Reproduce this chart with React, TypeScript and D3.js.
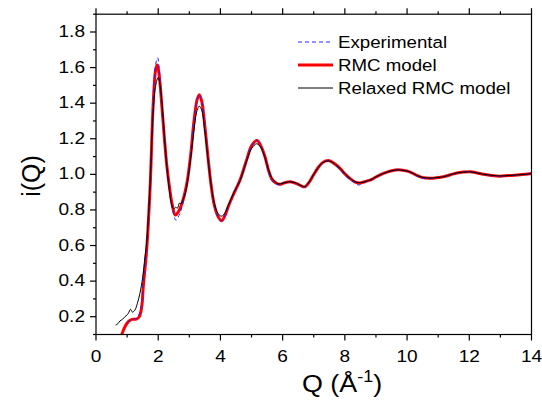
import * as d3 from 'd3'

// Q (1/Å) vs i(Q)
const experimental: [number, number][] = [
  [1.0, 0.165], [1.1, 0.18], [1.2, 0.186], [1.3, 0.19], [1.39, 0.215], [1.47, 0.28],
  [1.52, 0.39], [1.58, 0.5], [1.63, 0.6], [1.74, 0.95], [1.84, 1.42], [1.92, 1.62],
  [1.98, 1.655], [2.04, 1.58], [2.11, 1.41], [2.2, 1.2], [2.27, 1.05], [2.36, 0.91],
  [2.46, 0.8], [2.57, 0.742], [2.67, 0.77], [2.77, 0.82], [2.87, 0.89], [2.95, 0.97],
  [3.05, 1.12], [3.15, 1.3], [3.25, 1.42], [3.32, 1.448], [3.4, 1.41], [3.5, 1.27],
  [3.61, 1.08], [3.7, 0.94], [3.8, 0.83], [3.92, 0.765], [4.04, 0.739], [4.15, 0.77],
  [4.25, 0.818], [4.41, 0.884], [4.63, 0.968], [4.84, 1.08], [5.0, 1.16], [5.17, 1.19],
  [5.3, 1.16], [5.43, 1.095], [5.55, 1.01], [5.65, 0.965], [5.8, 0.945], [5.92, 0.942],
  [6.05, 0.952], [6.24, 0.958], [6.45, 0.948], [6.6, 0.932], [6.72, 0.928], [6.85, 0.955],
  [6.99, 0.996], [7.15, 1.04], [7.3, 1.068], [7.5, 1.077], [7.7, 1.05], [7.85, 1.025],
  [8.0, 0.995], [8.17, 0.97], [8.35, 0.948], [8.45, 0.94], [8.6, 0.955], [8.81, 0.966],
  [9.0, 0.985], [9.24, 1.005], [9.5, 1.02], [9.72, 1.026], [9.95, 1.02], [10.1, 1.012],
  [10.3, 0.992], [10.5, 0.978], [10.74, 0.976], [11.0, 0.982], [11.17, 0.986], [11.4, 0.998],
  [11.6, 1.008], [11.8, 1.013], [12.03, 1.015], [12.25, 1.008], [12.45, 1.0], [12.7, 0.993],
  [12.99, 0.99], [13.25, 0.993], [13.53, 0.996], [13.8, 1.0], [14.0, 1.005],
]

const rmcModel: [number, number][] = [
  [0.83, 0.1], [0.93, 0.144], [1.04, 0.172], [1.15, 0.185], [1.29, 0.186], [1.39, 0.2],
  [1.47, 0.256], [1.52, 0.37], [1.58, 0.48], [1.63, 0.58], [1.74, 0.93], [1.84, 1.4],
  [1.92, 1.59], [1.97, 1.615], [2.03, 1.56], [2.11, 1.4], [2.2, 1.2], [2.27, 1.06],
  [2.36, 0.93], [2.45, 0.83], [2.55, 0.771], [2.65, 0.79], [2.75, 0.83], [2.85, 0.89],
  [2.95, 0.98], [3.05, 1.12], [3.15, 1.3], [3.25, 1.42], [3.32, 1.448], [3.4, 1.41],
  [3.5, 1.27], [3.61, 1.08], [3.7, 0.94], [3.8, 0.83], [3.92, 0.765], [4.04, 0.739],
  [4.15, 0.77], [4.25, 0.818], [4.41, 0.884], [4.63, 0.968], [4.84, 1.08], [5.0, 1.16],
  [5.17, 1.19], [5.3, 1.16], [5.43, 1.1], [5.55, 1.02], [5.65, 0.975], [5.8, 0.95],
  [5.92, 0.944], [6.05, 0.952], [6.24, 0.958], [6.45, 0.948], [6.6, 0.935], [6.72, 0.93],
  [6.85, 0.955], [6.99, 0.996], [7.15, 1.04], [7.3, 1.068], [7.5, 1.077], [7.7, 1.055],
  [7.85, 1.032], [8.0, 1.003], [8.17, 0.976], [8.35, 0.955], [8.5, 0.952], [8.7, 0.962],
  [8.81, 0.967], [9.0, 0.985], [9.24, 1.005], [9.5, 1.02], [9.72, 1.026], [9.95, 1.02],
  [10.1, 1.013], [10.3, 0.995], [10.47, 0.983], [10.74, 0.978], [11.0, 0.982], [11.17, 0.986],
  [11.4, 0.998], [11.6, 1.008], [11.8, 1.013], [12.03, 1.015], [12.25, 1.008], [12.45, 1.0],
  [12.7, 0.994], [12.99, 0.99], [13.25, 0.993], [13.53, 0.996], [13.8, 1.0], [14.0, 1.005],
]

const relaxedModel: [number, number][] = [
  [0.63, 0.153], [0.7, 0.16], [0.77, 0.176], [0.85, 0.185], [0.93, 0.2], [1.0, 0.21],
  [1.04, 0.219], [1.11, 0.242], [1.17, 0.226], [1.25, 0.237], [1.33, 0.275], [1.41, 0.33],
  [1.5, 0.42], [1.57, 0.53], [1.63, 0.62], [1.74, 0.95], [1.84, 1.36], [1.92, 1.5],
  [2.0, 1.545], [2.06, 1.5], [2.13, 1.38], [2.2, 1.21], [2.28, 1.04], [2.36, 0.91],
  [2.43, 0.83], [2.5, 0.805], [2.56, 0.815], [2.62, 0.81], [2.68, 0.838], [2.74, 0.835],
  [2.8, 0.86], [2.88, 0.9], [2.95, 0.97], [3.05, 1.1], [3.15, 1.25], [3.25, 1.36],
  [3.32, 1.383], [3.4, 1.36], [3.5, 1.24], [3.61, 1.07], [3.7, 0.94], [3.8, 0.84],
  [3.92, 0.78], [4.04, 0.765], [4.15, 0.785], [4.25, 0.825], [4.41, 0.89], [4.63, 0.965],
  [4.84, 1.075], [5.0, 1.145], [5.17, 1.172], [5.3, 1.15], [5.43, 1.095], [5.55, 1.025],
  [5.65, 0.98], [5.8, 0.952], [5.92, 0.946], [6.05, 0.953], [6.24, 0.958], [6.45, 0.95],
  [6.6, 0.936], [6.72, 0.932], [6.85, 0.957], [6.99, 0.997], [7.15, 1.04], [7.3, 1.066],
  [7.5, 1.075], [7.7, 1.055], [7.85, 1.033], [8.0, 1.004], [8.17, 0.977], [8.35, 0.957],
  [8.5, 0.953], [8.7, 0.962], [8.81, 0.968], [9.0, 0.986], [9.24, 1.005], [9.5, 1.02],
  [9.72, 1.025], [9.95, 1.02], [10.1, 1.013], [10.3, 0.996], [10.47, 0.984], [10.74, 0.979],
  [11.0, 0.983], [11.17, 0.987], [11.4, 0.998], [11.6, 1.008], [11.8, 1.012], [12.03, 1.014],
  [12.25, 1.008], [12.45, 1.0], [12.7, 0.995], [12.99, 0.991], [13.25, 0.993], [13.53, 0.997],
  [13.8, 1.0], [14.0, 1.004],
]

const xTicks = [0, 2, 4, 6, 8, 10, 12, 14]
const xMinorTicks = [1, 3, 5, 7, 9, 11, 13]
const yTicks = [0.2, 0.4, 0.6, 0.8, 1.0, 1.2, 1.4, 1.6, 1.8]
const yMinorTicks = [0.1, 0.3, 0.5, 0.7, 0.9, 1.1, 1.3, 1.5, 1.7, 1.9]

const legendItems = [
  { label: 'Experimental', color: '#2222ff', width: 1, dash: '4,3' },
  { label: 'RMC model', color: '#ff0000', width: 3, dash: undefined },
  { label: 'Relaxed RMC model', color: '#000000', width: 1, dash: undefined },
]

const FONT = 'Liberation Sans, Arial, sans-serif'
const SX = 1.17 // the reference text is a bit wide

// horizontally widened text, anchored like normal svg text
const WideText = ({ x, y, anchor = 'start', size, sx = SX, children }: any) => (
  <g transform={`translate(${x},${y}) scale(${sx},1)`}>
    <text x={0} y={0} textAnchor={anchor} fontSize={size} fontFamily={FONT} fill="#000">
      {children}
    </text>
  </g>
)

export default function App() {
  const left = 96
  const right = 531.5
  const top = 14.2
  const bottom = 334.5

  const x = d3.scaleLinear().domain([0, 14]).range([left, right])
  const y = d3.scaleLinear().domain([0.1, 1.9]).range([bottom, top])

  const line = d3
    .line<[number, number]>()
    .x(d => x(d[0]))
    .y(d => y(d[1]))
    .curve(d3.curveCatmullRom.alpha(0.5))

  const major = 6
  const minor = 3

  return (
    <svg
      width={542}
      height={400}
      style={{ position: 'absolute', left: 0, top: 0, background: '#fff' }}
    >
      <defs>
        <clipPath id="plot">
          <rect x={left} y={top} width={right - left} height={bottom - top} />
        </clipPath>
      </defs>

      <g clipPath="url(#plot)" fill="none" strokeLinejoin="round">
        <path d={line(rmcModel) ?? ''} stroke="#ff0000" strokeWidth={3} />
        <path d={line(experimental) ?? ''} stroke="#2222ff" strokeWidth={1} strokeDasharray="4,3" />
        <path d={line(relaxedModel) ?? ''} stroke="#000" strokeWidth={1} />
      </g>

      {/* frame */}
      <rect x={left} y={top} width={right - left} height={bottom - top} fill="none" stroke="#000" strokeWidth={1.2} />

      {/* bottom + top ticks */}
      <g stroke="#000" strokeWidth={1.2}>
        {xTicks.map(t => (
          <g key={'x' + t}>
            <line x1={x(t)} x2={x(t)} y1={bottom} y2={bottom + major} />
            <line x1={x(t)} x2={x(t)} y1={top} y2={top - major} />
          </g>
        ))}
        {xMinorTicks.map(t => (
          <g key={'xm' + t}>
            <line x1={x(t)} x2={x(t)} y1={bottom} y2={bottom + minor} />
            <line x1={x(t)} x2={x(t)} y1={top} y2={top - minor} />
          </g>
        ))}
        {yTicks.map(t => (
          <line key={'y' + t} x1={left} x2={left - major} y1={y(t)} y2={y(t)} />
        ))}
        {yMinorTicks.map(t => (
          <line key={'ym' + t} x1={left} x2={left - minor} y1={y(t)} y2={y(t)} />
        ))}
      </g>

      {xTicks.map(t => (
        <WideText key={'xl' + t} x={x(t)} y={361.7} anchor="middle" size={16.3}>
          {t}
        </WideText>
      ))}
      {yTicks.map(t => (
        <WideText key={'yl' + t} x={85} y={y(t) + 5} anchor="end" size={16.3}>
          {d3.format('.1f')(t)}
        </WideText>
      ))}

      {/* axis titles */}
      <text
        transform="translate(39.5,176) rotate(-90)"
        textAnchor="middle"
        fontSize={25}
        fontFamily={FONT}
      >
        i(Q)
      </text>
      <WideText x={302} y={391.7} size={24} sx={1.12}>
        Q (Å
        <tspan fontSize={16} dy={-10}>-1</tspan>
        <tspan dy={10}>)</tspan>
      </WideText>

      {/* legend */}
      {legendItems.map((item, i) => {
        const ly = 42 + i * 23
        return (
          <g key={item.label}>
            <line
              x1={298}
              x2={333}
              y1={ly}
              y2={ly}
              stroke={item.color}
              strokeWidth={item.width}
              strokeDasharray={item.dash}
            />
            <WideText x={338} y={ly + 5.5} size={17} sx={1.1}>
              {item.label}
            </WideText>
          </g>
        )
      })}
    </svg>
  )
}
